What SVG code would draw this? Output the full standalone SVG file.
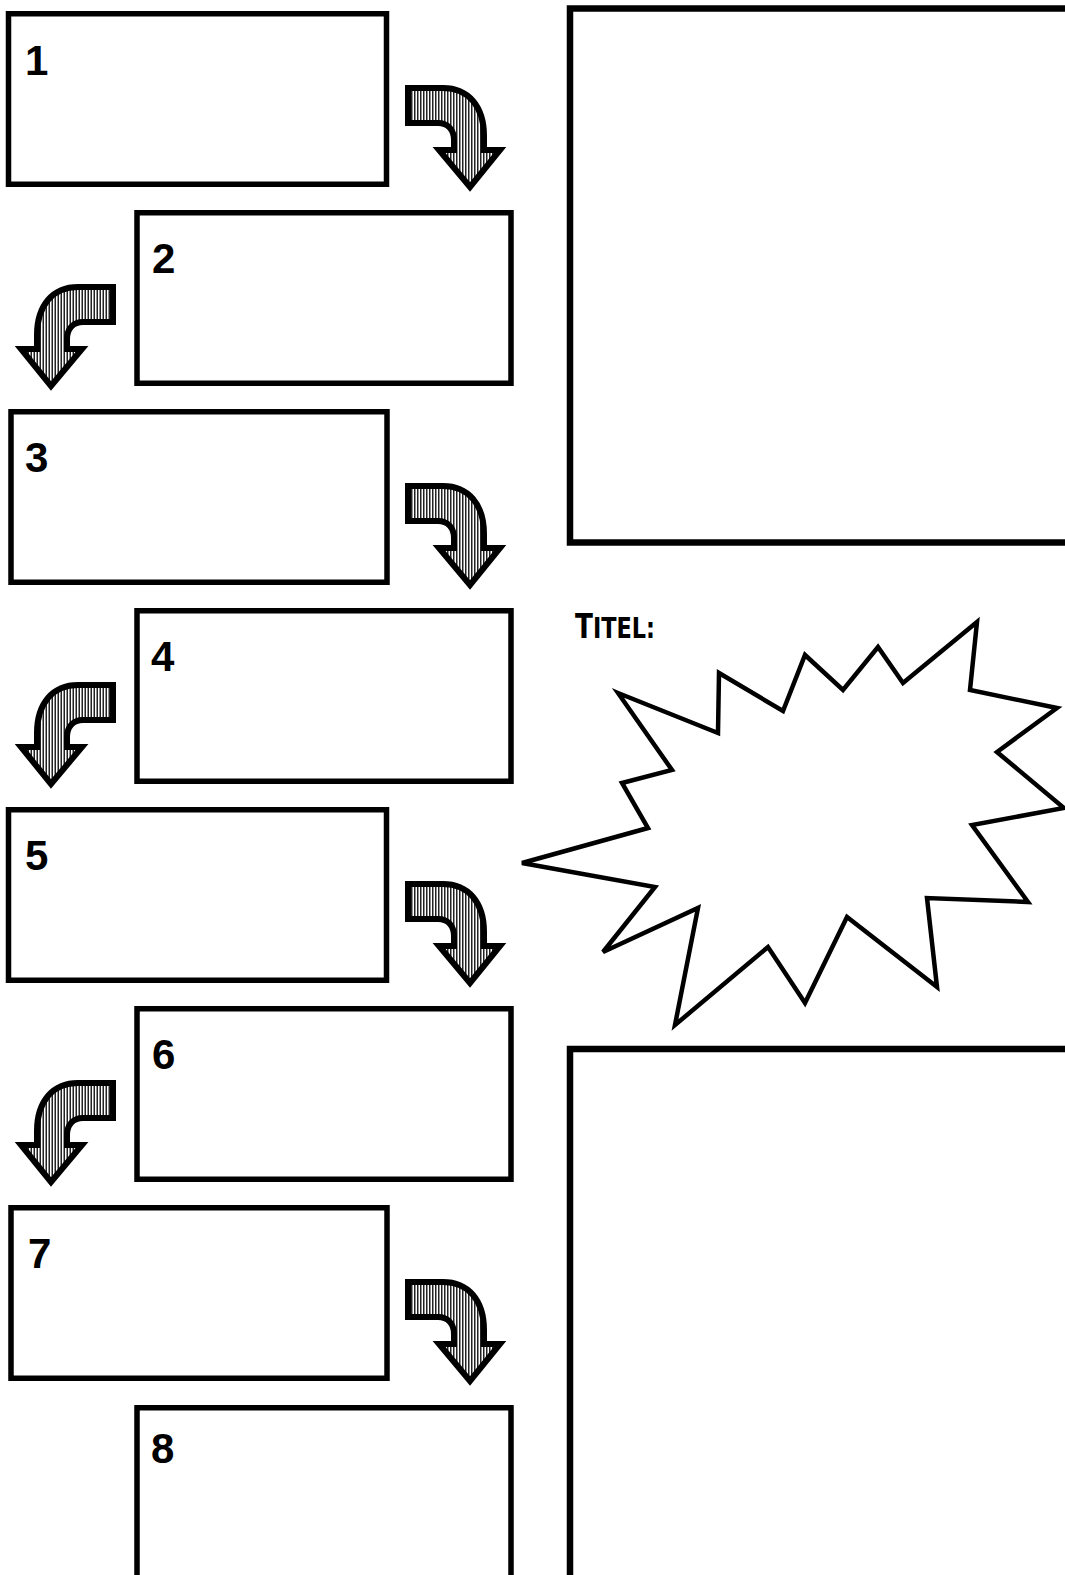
<svg xmlns="http://www.w3.org/2000/svg" xmlns:xlink="http://www.w3.org/1999/xlink" width="1065" height="1575" viewBox="0 0 1065 1575">
<style>
.box{fill:#fff;stroke:#000;stroke-width:5.5}
.panel{fill:#fff;stroke:#000;stroke-width:6.5}
.num{font-family:"Liberation Sans",Arial,sans-serif;font-weight:bold;font-size:42px;fill:#000}
.title{font-family:"DejaVu Sans Condensed","DejaVu Sans",sans-serif;font-weight:bold;font-size:34px;fill:#000}
.star{fill:#fff;stroke:#000;stroke-width:4.5;stroke-linejoin:miter}
.arrow{fill:url(#hatch);stroke:#000;stroke-width:6;stroke-linejoin:miter}
</style>
<defs>
<pattern id="hatch" width="3" height="4" patternUnits="userSpaceOnUse">
<rect width="3" height="4" fill="#fff"/>
<rect width="1.5" height="4" fill="#222"/>
</pattern>
<path id="arrowR" class="arrow" d="M0,0 H35 C60,0 76,18 76,48 V62 H92 L62,99 L31,62 H46 V52 C46,42 40,35 30,35 H0 Z"/>
</defs>
<rect width="1065" height="1575" fill="#fff"/>

<g id="panel-top"><rect class="panel" x="570" y="8.5" width="600" height="534"/></g>
<g id="panel-bottom"><rect class="panel" x="570" y="1049" width="600" height="600"/></g>

<g id="title">
<text class="title" x="575" y="638" textLength="80" lengthAdjust="spacingAndGlyphs">T<tspan font-size="29">ITEL:</tspan></text>
</g>
<g id="star">
<polygon class="star" points="618,693 718,733 719,673 783,711 805,655 843,690 878,647 903,683 977,622 970,690 1057,708 997,752 1064,808 972,825 1028,902 927,898 937,987 847,917 805,1003 768,947 675,1025 698,908 603,952 655,887 522,863 648,828 622,783 672,770"/>
</g>

<g id="box1"><rect class="box" x="8.5" y="13.75" width="378" height="170.5"/><text class="num" x="25" y="75">1</text></g>
<g id="box2"><rect class="box" x="137" y="212.75" width="374" height="170.5"/><text class="num" x="152" y="273">2</text></g>
<g id="box3"><rect class="box" x="11" y="411.75" width="376" height="170.5"/><text class="num" x="25" y="472">3</text></g>
<g id="box4"><rect class="box" x="137" y="610.75" width="374" height="170.5"/><text class="num" x="151" y="671">4</text></g>
<g id="box5"><rect class="box" x="8.5" y="809.75" width="378" height="170.5"/><text class="num" x="25" y="870">5</text></g>
<g id="box6"><rect class="box" x="137" y="1008.75" width="374" height="170.5"/><text class="num" x="152" y="1069">6</text></g>
<g id="box7"><rect class="box" x="11" y="1207.75" width="376" height="170.5"/><text class="num" x="28" y="1268">7</text></g>
<g id="box8"><rect class="box" x="137" y="1407.75" width="374" height="260"/><text class="num" x="151" y="1463">8</text></g>

<g id="connectors">
<use xlink:href="#arrowR" transform="translate(408,88)"/>
<use xlink:href="#arrowR" transform="translate(113,287) scale(-1,1)"/>
<use xlink:href="#arrowR" transform="translate(408,486)"/>
<use xlink:href="#arrowR" transform="translate(113,685) scale(-1,1)"/>
<use xlink:href="#arrowR" transform="translate(408,884)"/>
<use xlink:href="#arrowR" transform="translate(113,1083) scale(-1,1)"/>
<use xlink:href="#arrowR" transform="translate(408,1282)"/>
</g>
</svg>
